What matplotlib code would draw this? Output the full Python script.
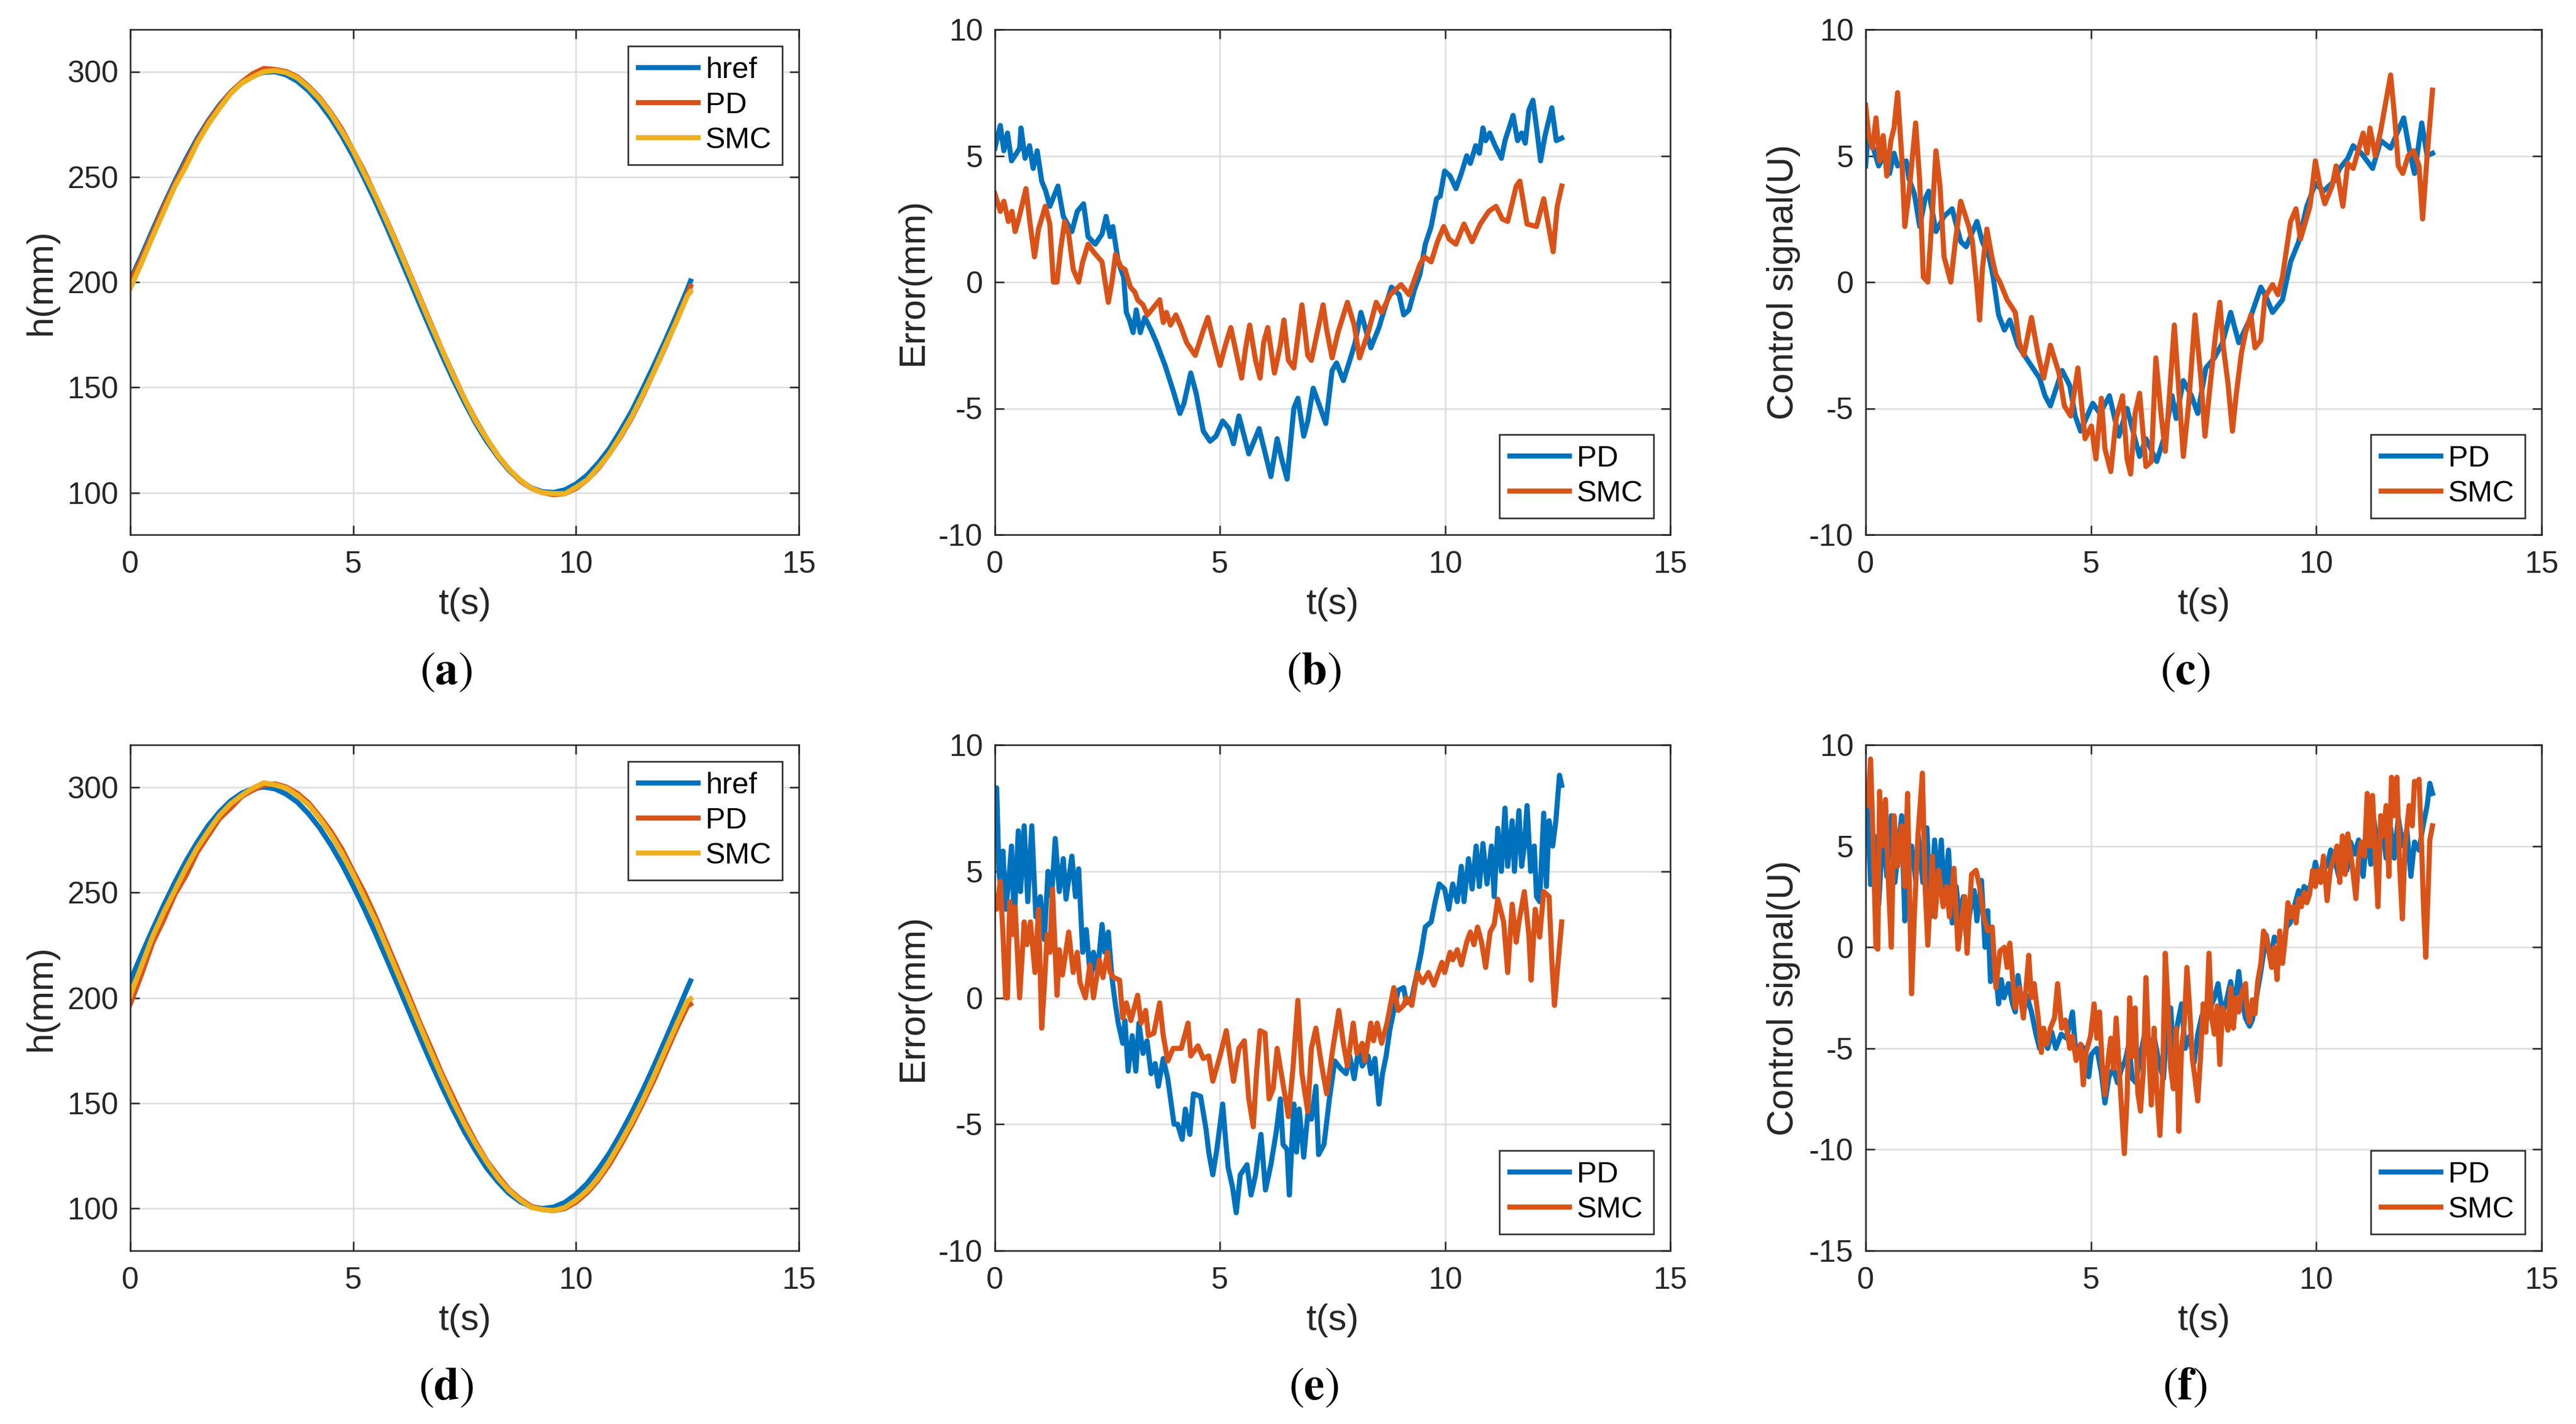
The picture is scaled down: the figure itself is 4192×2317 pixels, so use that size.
import numpy as np
import matplotlib
matplotlib.use('Agg')
import matplotlib.pyplot as plt

plt.rcParams['font.family'] = ['Liberation Sans', 'DejaVu Sans']
plt.rcParams['axes.unicode_minus'] = False
plt.rcParams['mathtext.fontset'] = 'stix'

BLUE = '#0072BD'
ORANGE = '#D95319'
YELLOW = '#EDB120'
DARK = '#262626'

# ---------------- (a) / (d) : level h(mm), read every 0.25 s ----------------
t_h = [0, 0.25, 0.5, 0.75, 1.0, 1.25, 1.5, 1.75, 2.0, 2.25, 2.5, 2.75, 3.0, 3.25, 3.5,
       3.75, 4.0, 4.25, 4.5, 4.75, 5.0, 5.25, 5.5, 5.75, 6.0, 6.25, 6.5, 6.75, 7.0,
       7.25, 7.5, 7.75, 8.0, 8.25, 8.5, 8.75, 9.0, 9.25, 9.5, 9.75, 10.0, 10.25, 10.5,
       10.75, 11.0, 11.25, 11.5, 11.75, 12.0, 12.25, 12.5, 12.57]

a_href = [201, 212.5, 224.7, 236.6, 247.9, 258.5, 268.2, 276.7, 284.1, 290.2, 294.9,
          298.1, 299.7, 299.9, 298.4, 295.4, 290.9, 285.0, 277.8, 269.4, 259.8, 249.3,
          238.2, 226.4, 214.1, 201.7, 189.2, 176.9, 164.9, 153.5, 142.8, 132.9, 124.3,
          116.9, 110.5, 105.7, 102.2, 100.4, 100.1, 101.3, 104.1, 108.3, 114.1, 120.9,
          129.5, 138.7, 149.4, 160.6, 172.1, 184.2, 196.7, 200.5]
a_pd = [200, 211, 223, 235.5, 246.5, 257, 267, 276, 283.5, 290, 295, 299, 301.5, 301,
        300, 297.5, 293, 287.5, 280.5, 272.5, 262.5, 252.5, 241, 229.5, 217.5, 205,
        192.5, 180, 167.5, 156, 144.5, 134.5, 125.5, 117.5, 111, 105.5, 102, 100, 99,
        99.5, 102, 106, 111.5, 118.5, 126.5, 135.5, 146, 157.5, 169, 181.5, 194, 198]
a_smc = [197, 209, 221.5, 233.5, 245.5, 255, 266, 275, 282.5, 289.5, 294.5, 297.5, 300,
         300.5, 299.5, 297, 292.5, 287, 280, 271.5, 262.5, 251.5, 241, 229, 217, 204.5,
         192, 179.5, 167.5, 155.5, 144.5, 134, 125.5, 117.5, 111, 106, 102, 100, 99.5,
         99.5, 102.5, 106, 112, 118.5, 127, 136, 146.5, 157.5, 169.5, 181, 193.5, 195.5]

d_href = [208, 220.4, 232.4, 243.9, 254.8, 264.8, 273.8, 281.7, 288.2, 293.4, 297.1,
          299.3, 300.0, 299.1, 296.6, 292.8, 287.3, 280.6, 272.5, 263.4, 253.1, 242.3,
          230.7, 218.5, 206.2, 193.7, 181.3, 169.1, 157.5, 146.6, 136.3, 127.3, 119.1,
          112.6, 107.1, 103.2, 100.8, 100.0, 100.7, 102.9, 106.8, 111.9, 118.7, 126.3,
          135.5, 145.5, 156.2, 167.8, 179.9, 192.2, 204.7, 208]
d_pd = [197, 211, 226, 237, 249, 258, 269, 277, 285, 290, 295.5, 298.5, 301, 301.5,
        300, 297, 292.5, 286, 279, 270.5, 260, 250, 238.5, 226, 213.5, 201, 188, 176,
        163.5, 152.5, 141.5, 131.5, 122.5, 115.5, 109, 104.5, 101, 99.5, 99, 100, 103,
        107.5, 113.5, 121, 130, 139.5, 150, 161, 173, 185, 196, 197]
d_smc = [201, 215, 229, 240.5, 251, 261.5, 271, 279, 286.5, 292, 296, 299.5, 302, 301,
         299.5, 296, 291.5, 285, 277.5, 268.5, 258.5, 247.5, 236.5, 224, 211.5, 199,
         186.5, 174, 162, 150.5, 140, 130.5, 122, 114.5, 108.5, 104, 100.5, 99.5, 99,
         100.5, 104, 108.5, 114.5, 122.5, 131.5, 141, 151.5, 163, 175, 187, 198.5, 199.5]

# ---------------- (b) error, case 1 ----------------
b_pd_t = [0, 0.12, 0.2, 0.28, 0.37, 0.48, 0.55, 0.58, 0.67, 0.77, 0.85, 0.94, 1.04, 1.13,
          1.22, 1.4, 1.52, 1.71, 1.83, 1.97, 2.07, 2.23, 2.38, 2.47, 2.56, 2.62, 2.74, 2.86,
          2.92, 2.99, 3.07, 3.14, 3.23, 3.33, 3.47, 3.59, 3.78, 3.96, 4.11, 4.2, 4.35, 4.47,
          4.63, 4.78, 4.91, 5.06, 5.2, 5.3, 5.42, 5.64, 5.87, 6.13, 6.27, 6.37, 6.49, 6.64,
          6.73, 6.86, 6.95, 7.07, 7.23, 7.35, 7.49, 7.59, 7.74, 7.9, 8.0, 8.13, 8.35, 8.53,
          8.65, 8.81, 8.98, 9.08, 9.2, 9.32, 9.44, 9.56, 9.69, 9.81, 9.89, 9.99, 10.11,
          10.24, 10.36, 10.48, 10.56, 10.68, 10.76, 10.84, 10.9, 10.99, 11.11, 11.25,
          11.33, 11.42, 11.51, 11.61, 11.7, 11.78, 11.86, 11.95, 12.04, 12.12, 12.22,
          12.37, 12.47, 12.59]
b_pd = [5.3, 6.2, 5.2, 5.9, 4.8, 5.1, 5.3, 6.1, 4.9, 5.4, 4.5, 5.2, 4.0, 3.6, 3.0, 3.8,
        2.6, 2.0, 2.8, 3.1, 1.8, 1.5, 1.9, 2.6, 1.8, 2.2, 0.8, 0.2, -1.2, -1.5, -2.0, -1.1,
        -2.0, -1.4, -1.9, -2.4, -3.3, -4.3, -5.2, -4.8, -3.6, -4.4, -5.9, -6.3, -6.1, -5.5,
        -5.8, -6.4, -5.3, -6.8, -5.8, -7.7, -6.2, -7.0, -7.8, -5.0, -4.6, -6.1, -5.5, -4.2,
        -5.0, -5.6, -3.5, -3.2, -3.9, -3.0, -2.4, -1.2, -2.6, -1.8, -1.1, -0.2, -0.5, -1.3,
        -1.1, -0.3, 0.3, 1.5, 2.2, 3.3, 3.4, 4.4, 4.2, 3.7, 4.3, 5.0, 4.7, 5.4, 5.1, 6.1,
        5.6, 5.9, 5.4, 4.9, 5.6, 6.1, 6.6, 5.6, 5.9, 5.5, 6.8, 7.2, 6.0, 4.8, 5.8, 6.9,
        5.6, 5.7]

b_smc_t = [0, 0.12, 0.2, 0.3, 0.38, 0.45, 0.53, 0.61, 0.69, 0.79, 0.88, 0.97, 1.12, 1.22,
           1.3, 1.38, 1.46, 1.55, 1.64, 1.74, 1.86, 1.95, 2.07, 2.19, 2.38, 2.52, 2.6, 2.68,
           2.8, 2.89, 3.01, 3.11, 3.17, 3.29, 3.39, 3.66, 3.74, 3.81, 3.9, 4.02, 4.14, 4.26,
           4.45, 4.63, 4.73, 4.81, 5.0, 5.12, 5.24, 5.48, 5.57, 5.66, 5.79, 5.89, 5.97,
           6.06, 6.21, 6.34, 6.42, 6.52, 6.64, 6.82, 6.95, 7.03, 7.29, 7.37, 7.49, 7.62,
           7.83, 7.98, 8.1, 8.29, 8.47, 8.59, 8.78, 9.02, 9.2, 9.44, 9.54, 9.69, 9.83, 9.97,
           10.09, 10.24, 10.42, 10.6, 10.78, 10.97, 11.13, 11.27, 11.39, 11.58, 11.66,
           11.82, 12.03, 12.19, 12.31, 12.4, 12.49, 12.59]
b_smc = [3.5, 2.8, 3.2, 2.4, 2.8, 2.0, 2.5, 3.1, 3.7, 2.2, 1.0, 2.1, 3.0, 2.3, 0.0, 0.0,
         1.3, 2.4, 1.9, 0.5, 0.0, 0.8, 1.5, 1.2, 0.8, -0.8, 0.0, 1.1, 0.6, 0.5, -0.2, -0.4,
         -0.7, -0.9, -1.3, -0.7, -1.6, -1.2, -1.7, -1.3, -1.8, -2.4, -2.9, -1.9, -1.4,
         -2.0, -3.3, -2.5, -1.8, -3.8, -2.6, -1.7, -3.1, -3.8, -2.4, -1.8, -3.6, -2.5,
         -1.5, -3.1, -3.4, -0.9, -2.9, -3.1, -0.9, -1.9, -3.0, -2.0, -0.8, -1.7, -3.0,
         -2.0, -0.8, -1.2, -0.5, -0.1, -0.5, 0.7, 1.0, 0.8, 1.6, 2.2, 1.7, 1.5, 2.3, 1.6,
         2.3, 2.8, 3.0, 2.5, 2.4, 3.8, 4.0, 2.3, 2.2, 3.3, 2.1, 1.2, 3.0, 3.8]

# ---------------- (c) control signal, case 1 ----------------
c_pd_t = [0, 0.05, 0.17, 0.29, 0.41, 0.53, 0.63, 0.71, 0.9, 0.96, 1.08, 1.2, 1.32, 1.4,
          1.56, 1.74, 1.92, 2.11, 2.23, 2.47, 2.59, 2.74, 2.83, 2.95, 3.08, 3.2, 3.38,
          3.56, 3.86, 3.98, 4.1, 4.36, 4.53, 4.65, 4.77, 5.04, 5.2, 5.41, 5.62, 5.8, 6.08,
          6.22, 6.46, 6.65, 6.8, 6.89, 7.05, 7.23, 7.37, 7.55, 7.74, 7.92, 8.1, 8.28,
          8.52, 8.77, 8.89, 9.03, 9.25, 9.43, 9.61, 9.79, 9.98, 10.16, 10.4, 10.52, 10.7,
          10.82, 11.0, 11.25, 11.43, 11.65, 11.94, 12.09, 12.18, 12.34, 12.46, 12.58]
c_pd = [4.6, 5.7, 5.3, 4.6, 5.0, 4.3, 5.1, 4.6, 4.8, 4.1, 3.5, 2.2, 3.3, 3.6, 2.0, 2.6,
        2.9, 1.6, 1.4, 2.4, 1.6, 1.0, 0.2, -1.3, -1.9, -1.5, -2.5, -3.0, -3.8, -4.5, -4.9,
        -3.5, -4.1, -5.3, -5.9, -4.8, -5.2, -4.5, -6.1, -5.0, -6.9, -6.2, -7.1, -6.0,
        -4.5, -5.4, -3.9, -4.5, -5.2, -3.4, -3.0, -2.4, -1.2, -2.4, -1.5, -0.2, -0.6,
        -1.2, -0.7, 0.8, 1.6, 3.0, 3.9, 3.6, 4.0, 4.5, 4.9, 5.4, 5.1, 4.5, 5.6, 5.3, 6.5,
        5.0, 4.3, 6.3, 5.0, 5.1]

c_smc_t = [0, 0.07, 0.15, 0.23, 0.31, 0.39, 0.47, 0.56, 0.63, 0.71, 0.8, 0.87, 0.96, 1.11,
           1.2, 1.28, 1.38, 1.48, 1.56, 1.65, 1.74, 1.89, 1.99, 2.11, 2.29, 2.37, 2.47,
           2.53, 2.59, 2.69, 2.8, 2.89, 2.98, 3.14, 3.32, 3.41, 3.51, 3.68, 3.83, 3.95,
           4.1, 4.29, 4.41, 4.55, 4.71, 4.87, 5.01, 5.11, 5.23, 5.31, 5.44, 5.56, 5.7,
           5.8, 5.88, 5.98, 6.08, 6.22, 6.34, 6.44, 6.56, 6.65, 6.73, 6.85, 7.05, 7.17,
           7.31, 7.44, 7.53, 7.65, 7.77, 7.86, 7.94, 8.04, 8.14, 8.22, 8.34, 8.43, 8.55,
           8.64, 8.77, 8.86, 9.03, 9.15, 9.25, 9.43, 9.55, 9.65, 9.86, 9.98, 10.07, 10.19,
           10.35, 10.44, 10.59, 10.7, 10.82, 11.04, 11.13, 11.19, 11.31, 11.43, 11.53,
           11.65, 11.74, 11.82, 11.92, 12.04, 12.16, 12.28, 12.36, 12.46, 12.58]
c_smc = [7.0, 5.8, 5.3, 6.5, 4.8, 5.8, 4.2, 5.6, 6.1, 7.5, 5.0, 2.2, 3.5, 6.3, 4.0, 0.2,
         0.0, 2.7, 5.2, 3.8, 1.0, 0.0, 1.6, 3.2, 2.2, 1.6, -0.2, -1.5, 0.5, 2.1, 1.0, 0.3,
         0.0, -0.7, -1.2, -2.4, -2.9, -1.4, -2.9, -3.8, -2.5, -3.6, -4.9, -5.3, -3.4,
         -6.2, -5.7, -7.0, -4.6, -6.6, -7.5, -5.4, -4.5, -7.0, -7.6, -5.2, -4.4, -7.3,
         -7.1, -3.0, -5.3, -6.7, -4.8, -1.7, -6.9, -4.8, -1.3, -3.8, -6.1, -4.0, -2.0,
         -0.8, -2.6, -4.0, -5.9, -4.5, -2.8, -2.0, -1.3, -2.6, -2.3, -0.6, -0.1, -0.5,
         0.2, 2.4, 2.9, 1.7, 3.0, 4.8, 3.9, 3.1, 3.8, 4.6, 3.0, 4.7, 4.5, 5.9, 5.1, 6.1,
         5.0, 6.0, 7.0, 8.2, 6.5, 4.6, 4.3, 5.0, 5.2, 4.6, 2.5, 5.0, 7.6]

# ---------------- (e) error, case 2 ----------------
e_pd_t = [0, 0.04, 0.09, 0.12, 0.18, 0.24, 0.3, 0.37, 0.43, 0.52, 0.57, 0.65, 0.73, 0.82,
          0.91, 1.01, 1.1, 1.18, 1.26, 1.34, 1.43, 1.52, 1.58, 1.71, 1.79, 1.86, 1.95,
          2.03, 2.13, 2.19, 2.28, 2.38, 2.44, 2.52, 2.6, 2.68, 2.74, 2.84, 2.89, 2.96,
          3.05, 3.13, 3.2, 3.29, 3.38, 3.47, 3.56, 3.63, 3.74, 3.84, 3.98, 4.06, 4.16,
          4.23, 4.33, 4.41, 4.57, 4.69, 4.75, 4.84, 4.93, 5.06, 5.12, 5.18, 5.28, 5.36,
          5.45, 5.6, 5.69, 5.79, 5.91, 6.01, 6.13, 6.25, 6.34, 6.4, 6.49, 6.54, 6.64,
          6.7, 6.76, 6.86, 6.95, 7.03, 7.13, 7.19, 7.31, 7.43, 7.55, 7.68, 7.8, 7.88,
          7.98, 8.08, 8.16, 8.29, 8.35, 8.44, 8.53, 8.61, 8.69, 8.77, 8.86, 8.96, 9.08,
          9.14, 9.26, 9.38, 9.47, 9.56, 9.69, 9.78, 9.87, 9.99, 10.08, 10.17, 10.27,
          10.36, 10.42, 10.52, 10.6, 10.69, 10.76, 10.84, 10.93, 11.03, 11.09, 11.17,
          11.25, 11.33, 11.39, 11.49, 11.54, 11.64, 11.7, 11.76, 11.82, 11.9, 11.98,
          12.03, 12.1, 12.19, 12.25, 12.31, 12.39, 12.46, 12.54, 12.59]
e_pd = [8.2, 8.3, 5.0, 4.5, 5.8, 3.5, 4.5, 6.0, 3.0, 6.6, 4.2, 6.8, 3.8, 6.8, 3.2, 4.0,
        2.3, 5.0, 4.0, 6.3, 4.2, 5.5, 3.9, 5.6, 4.0, 5.1, 1.8, 2.7, 0.6, 1.8, 1.0, 2.9,
        1.8, 2.6, 0.8, -0.3, -1.0, -1.8, -0.9, -2.9, -1.5, -2.9, -1.0, -2.2, -1.7, -3.0,
        -2.6, -3.5, -2.4, -3.2, -5.0, -5.0, -5.6, -4.4, -5.4, -3.8, -3.9, -5.2, -6.1,
        -7.0, -6.0, -4.2, -5.5, -6.7, -7.5, -8.5, -7.0, -6.6, -7.8, -7.0, -5.4, -7.6,
        -6.6, -5.3, -4.0, -5.8, -6.0, -7.8, -4.2, -6.1, -4.4, -6.3, -4.6, -4.8, -3.5,
        -6.2, -5.8, -4.0, -2.5, -2.8, -3.0, -2.3, -3.2, -2.0, -2.7, -2.3, -3.0, -2.4,
        -4.2, -3.0, -2.3, -1.3, -0.5, 0.3, 0.4, -0.2, 0.0, 1.0, 1.8, 2.8, 3.0, 3.8, 4.5,
        4.3, 3.5, 4.5, 3.8, 5.2, 3.8, 5.5, 4.3, 6.0, 4.4, 6.1, 4.5, 6.0, 4.0, 6.7, 5.0,
        7.5, 5.2, 7.0, 5.0, 7.4, 5.2, 6.0, 7.6, 5.0, 6.0, 4.0, 3.8, 7.3, 4.4, 7.0, 6.0,
        7.0, 8.8, 8.4]

e_smc_t = [0, 0.04, 0.12, 0.18, 0.24, 0.28, 0.33, 0.4, 0.45, 0.55, 0.65, 0.71, 0.79, 0.89,
           0.97, 1.04, 1.1, 1.16, 1.22, 1.28, 1.38, 1.43, 1.5, 1.64, 1.74, 1.83, 1.89,
           2.01, 2.11, 2.19, 2.32, 2.4, 2.5, 2.56, 2.64, 2.77, 2.84, 2.92, 3.02, 3.17,
           3.25, 3.35, 3.41, 3.53, 3.66, 3.74, 3.84, 3.96, 4.14, 4.29, 4.35, 4.51, 4.63,
           4.75, 4.84, 5.0, 5.14, 5.3, 5.42, 5.54, 5.64, 5.74, 5.81, 5.89, 6.0, 6.09, 6.18,
           6.27, 6.52, 6.62, 6.73, 6.82, 6.95, 7.03, 7.13, 7.25, 7.37, 7.49, 7.64, 7.74,
           7.83, 7.96, 8.04, 8.16, 8.22, 8.35, 8.41, 8.49, 8.59, 8.71, 8.86, 8.96, 9.08,
           9.14, 9.26, 9.38, 9.5, 9.63, 9.75, 9.93, 9.99, 10.11, 10.17, 10.27, 10.36,
           10.48, 10.56, 10.64, 10.72, 10.81, 10.9, 11.0, 11.09, 11.17, 11.3, 11.39,
           11.49, 11.58, 11.64, 11.76, 11.86, 11.91, 12.0, 12.1, 12.19, 12.31, 12.37,
           12.43, 12.49, 12.59]
e_smc = [4.0, 3.5, 4.6, 2.5, 0.0, 0.0, 3.8, 2.5, 3.6, 0.0, 3.0, 2.1, 3.0, 1.0, 3.5, -1.2,
         0.5, 2.5, 1.8, 4.3, 0.1, 1.9, 0.9, 2.6, 1.0, 1.8, 0.6, 0.0, 1.3, 0.0, 1.5, 0.8,
         1.8, 1.0, 0.8, 0.7, -0.8, -0.2, -0.9, 0.1, -1.0, -0.5, -1.5, -1.4, -0.2, -1.5,
         -2.5, -2.0, -2.0, -1.0, -2.3, -1.9, -2.4, -2.3, -3.3, -2.3, -1.3, -3.3, -2.0,
         -1.7, -4.0, -5.1, -3.0, -1.3, -1.4, -4.0, -3.6, -2.0, -4.7, -2.8, -0.1, -3.0,
         -4.5, -2.0, -1.2, -2.6, -3.8, -2.2, -0.5, -1.8, -2.7, -1.0, -2.2, -1.8, -2.5,
         -1.0, -1.7, -1.0, -1.8, -1.0, 0.4, -0.5, -0.3, 0.0, -0.3, 1.0, 0.6, 1.0, 0.5,
         1.4, 1.0, 1.8, 1.5, 1.9, 1.3, 2.2, 2.6, 2.1, 2.8, 2.2, 1.2, 2.6, 2.9, 3.9, 3.0,
         1.0, 3.7, 2.2, 3.0, 4.2, 2.5, 0.7, 3.5, 2.4, 4.2, 4.0, 1.5, -0.3, 1.0, 3.0]

# ---------------- (f) control signal, case 2 ----------------
f_pd_t = [0, 0.05, 0.11, 0.19, 0.29, 0.39, 0.47, 0.57, 0.65, 0.8, 0.87, 0.93, 1.02, 1.11,
          1.17, 1.27, 1.36, 1.44, 1.53, 1.6, 1.68, 1.74, 1.84, 1.92, 2.01, 2.08, 2.17,
          2.23, 2.32, 2.41, 2.47, 2.57, 2.65, 2.71, 2.77, 2.83, 2.89, 2.95, 3.01, 3.07,
          3.17, 3.26, 3.32, 3.38, 3.5, 3.58, 3.68, 3.78, 3.86, 3.95, 4.04, 4.13, 4.22,
          4.34, 4.46, 4.59, 4.67, 4.77, 4.87, 4.95, 5.01, 5.13, 5.23, 5.31, 5.4, 5.5,
          5.59, 5.68, 5.76, 5.84, 5.92, 6.0, 6.1, 6.2, 6.28, 6.4, 6.52, 6.61, 6.68, 6.77,
          6.83, 6.92, 7.01, 7.09, 7.19, 7.29, 7.37, 7.46, 7.55, 7.65, 7.74, 7.82, 7.92,
          8.01, 8.1, 8.18, 8.28, 8.34, 8.43, 8.52, 8.58, 8.67, 8.77, 8.83, 8.89, 8.98,
          9.07, 9.15, 9.25, 9.34, 9.42, 9.51, 9.61, 9.67, 9.73, 9.83, 9.91, 9.98, 10.07,
          10.16, 10.24, 10.32, 10.41, 10.5, 10.59, 10.68, 10.76, 10.85, 10.94, 11.04,
          11.12, 11.21, 11.28, 11.37, 11.45, 11.55, 11.65, 11.73, 11.82, 11.92, 12.01,
          12.1, 12.18, 12.28, 12.37, 12.46, 12.52, 12.58]
f_pd = [7.5, 6.5, 3.1, 5.5, 2.1, 6.0, 3.5, 6.5, 3.2, 6.5, 1.3, 3.5, 5.0, 3.3, 5.5, 3.2,
        5.9, 1.5, 5.3, 3.0, 5.3, 2.5, 4.8, 1.2, 3.0, 1.5, 2.5, 0.6, 1.8, 2.8, 1.3, 3.3,
        0.0, 1.8, -1.7, -0.5, -1.3, -2.8, -1.6, -2.5, -1.8, -2.8, -3.2, -1.4, -3.3, -2.4,
        -3.2, -4.3, -5.0, -4.2, -5.0, -4.2, -5.0, -4.3, -4.5, -3.2, -5.4, -4.8, -5.1,
        -6.4, -5.3, -5.0, -6.2, -7.7, -6.4, -6.0, -6.7, -6.0, -5.6, -4.8, -6.5, -6.7,
        -5.3, -4.2, -5.2, -4.4, -5.8, -6.5, -4.2, -3.0, -5.3, -3.8, -2.8, -5.0, -4.4,
        -5.7, -4.3, -3.4, -3.7, -3.0, -2.5, -1.8, -3.3, -2.6, -1.7, -3.0, -1.2, -2.5,
        -3.5, -3.9, -3.6, -2.5, -1.2, -0.3, 0.6, -0.6, 0.5, 0.3, -0.2, 1.0, 1.2, 2.0,
        2.8, 2.2, 3.0, 2.8, 3.3, 4.2, 3.3, 4.3, 4.0, 4.8, 4.3, 3.5, 5.0, 3.8, 5.2, 4.6,
        5.3, 3.5, 5.6, 4.1, 6.3, 4.8, 6.2, 4.4, 5.9, 4.4, 6.4, 5.0, 5.8, 3.5, 5.2, 4.8,
        6.0, 7.0, 8.1, 7.6]

f_smc_t = [0, 0.05, 0.11, 0.17, 0.23, 0.27, 0.31, 0.36, 0.44, 0.51, 0.57, 0.63, 0.71,
           0.8, 0.87, 0.93, 1.02, 1.08, 1.16, 1.26, 1.32, 1.38, 1.48, 1.54, 1.62, 1.72,
           1.8, 1.86, 1.96, 2.05, 2.11, 2.2, 2.25, 2.35, 2.45, 2.53, 2.62, 2.71, 2.81,
           2.89, 2.98, 3.08, 3.14, 3.2, 3.26, 3.32, 3.41, 3.5, 3.56, 3.62, 3.68, 3.74,
           3.83, 3.9, 3.95, 4.02, 4.1, 4.19, 4.26, 4.35, 4.43, 4.53, 4.59, 4.67, 4.77,
           4.83, 4.89, 4.99, 5.07, 5.13, 5.19, 5.25, 5.31, 5.38, 5.44, 5.5, 5.56, 5.62,
           5.68, 5.74, 5.8, 5.86, 5.92, 5.98, 6.04, 6.1, 6.16, 6.22, 6.28, 6.34, 6.4,
           6.46, 6.53, 6.59, 6.65, 6.71, 6.77, 6.83, 6.89, 6.95, 7.01, 7.07, 7.13, 7.19,
           7.25, 7.31, 7.37, 7.43, 7.49, 7.55, 7.62, 7.68, 7.74, 7.8, 7.86, 7.92, 7.98,
           8.04, 8.1, 8.16, 8.22, 8.28, 8.34, 8.43, 8.46, 8.52, 8.58, 8.64, 8.7, 8.77,
           8.83, 8.89, 8.95, 9.01, 9.07, 9.13, 9.19, 9.25, 9.31, 9.37, 9.43, 9.49, 9.55,
           9.61, 9.67, 9.73, 9.79, 9.85, 9.92, 9.98, 10.04, 10.1, 10.16, 10.24, 10.31,
           10.4, 10.46, 10.52, 10.58, 10.64, 10.7, 10.8, 10.88, 10.94, 11.0, 11.07, 11.13,
           11.19, 11.25, 11.31, 11.37, 11.43, 11.49, 11.55, 11.61, 11.67, 11.73, 11.79,
           11.85, 11.91, 11.97, 12.06, 12.13, 12.18, 12.23, 12.28, 12.33, 12.38, 12.43,
           12.47, 12.52, 12.58]
f_smc = [8.0, 7.0, 9.3, 5.0, 0.0, -0.1, 7.7, 5.0, 7.3, 3.0, 0.0, 6.5, 4.0, 6.0, 3.0, 7.6,
         -2.3, 1.5, 5.5, 8.6, 3.0, 0.1, 4.5, 1.5, 3.8, 2.0, 3.0, 1.5, 3.9, -0.1, 1.0, 2.5,
         -0.3, 3.6, 3.8, 3.0, 1.5, 0.8, 1.0, -2.0, -0.2, 0.0, -1.0, 0.2, -1.5, -3.0,
         -2.0, -3.5, -2.0, -0.4, -2.5, -1.8, -3.5, -5.2, -4.0, -4.8, -4.0, -3.5, -1.8,
         -4.0, -3.6, -5.0, -4.4, -5.6, -4.8, -6.8, -5.2, -4.4, -2.8, -4.5, -3.2, -5.8,
         -7.3, -5.6, -4.5, -6.0, -3.5, -5.8, -8.0, -10.2, -7.5, -2.5, -5.4, -3.0, -7.2,
         -8.1, -6.2, -1.5, -5.0, -7.8, -4.0, -7.0, -9.3, -6.5, -0.3, -2.8, -6.0, -7.0,
         -4.0, -9.1, -5.0, -3.8, -1.0, -3.0, -5.5, -6.5, -7.6, -5.5, -2.8, -4.2, -0.3,
         -3.5, -4.3, -2.9, -5.8, -3.0, -3.5, -4.1, -2.0, -4.0, -2.5, -3.2, -2.3, -1.8,
         -3.0, -3.7, -2.6, -3.3, -1.7, -0.8, 0.8, 0.5, -0.2, -1.0, 0.0, -1.6, 0.8, -0.8,
         0.4, 2.2, 1.5, 2.0, 1.2, 2.4, 2.0, 2.7, 2.2, 2.6, 3.8, 3.0, 3.8, 3.2, 4.5, 2.3,
         3.8, 4.5, 5.0, 3.2, 5.5, 3.6, 5.6, 4.0, 2.4, 4.4, 5.2, 4.5, 7.6, 5.0, 7.5, 4.5,
         2.0, 6.5, 5.5, 7.0, 3.5, 8.4, 6.5, 8.4, 4.0, 1.4, 5.0, 7.0, 6.0, 8.2, 8.0, 8.3,
         5.5, 2.0, -0.5, 2.0, 5.3, 6.0]

# ---------------- layout (pixel boxes of the six axes) ----------------
W, H = 4192, 2317
col_l = [212, 1619, 3036]
col_r = [1300, 2718, 4136]
row_t = [48, 1212]
row_b = [870, 2035]
lab_x = [726, 2138, 3556]
lab_y = [1093, 2257]
LW = 6.0

fig = plt.figure(figsize=(W / 100, H / 100), dpi=100)


def panel(col, row, ylim, yticks, ylabel):
    ax = fig.add_axes([col_l[col] / W, 1 - row_b[row] / H,
                       (col_r[col] - col_l[col]) / W, (row_b[row] - row_t[row]) / H])
    ax.set_xlim(0, 15)
    ax.set_xticks([0, 5, 10, 15])
    ax.set_ylim(*ylim)
    ax.set_yticks(yticks)
    ax.grid(True, color='#dddddd', lw=1.8)
    ax.set_axisbelow(True)
    ax.tick_params(direction='in', length=11, width=1.8, top=True, right=True,
                   labelsize=36, colors=DARK)
    ax.tick_params(axis='x', pad=19)
    ax.tick_params(axis='y', pad=14)
    for s in ax.spines.values():
        s.set_linewidth(1.8)
        s.set_color(DARK)
    ax.set_xlabel('t(s)', fontsize=43, labelpad=10, color=DARK)
    ax.set_ylabel(ylabel, fontsize=43, labelpad=10, color=DARK)
    return ax


def finish(ax, loc):
    leg = ax.legend(loc=loc, fontsize=35, fancybox=False, framealpha=1,
                    edgecolor=DARK, handlelength=2.0, handletextpad=0.25,
                    labelspacing=0.25, borderaxespad=0.55, borderpad=0.35)
    leg.get_frame().set_linewidth(1.8)


# (a)
ax = panel(0, 0, (80, 320), [100, 150, 200, 250, 300], 'h(mm)')
ax.plot(t_h, a_href, color=BLUE, lw=LW, label='href')
ax.plot(t_h, a_pd, color=ORANGE, lw=LW, label='PD')
ax.plot(t_h, a_smc, color=YELLOW, lw=LW, label='SMC')
finish(ax, 'upper right')

# (b)
ax = panel(1, 0, (-10, 10), [-10, -5, 0, 5, 10], 'Error(mm)')
ax.plot(b_pd_t, b_pd, color=BLUE, lw=LW, label='PD')
ax.plot(b_smc_t, b_smc, color=ORANGE, lw=LW, label='SMC')
finish(ax, 'lower right')

# (c)
ax = panel(2, 0, (-10, 10), [-10, -5, 0, 5, 10], 'Control signal(U)')
ax.plot(c_pd_t, c_pd, color=BLUE, lw=LW, label='PD')
ax.plot(c_smc_t, c_smc, color=ORANGE, lw=LW, label='SMC')
finish(ax, 'lower right')

# (d)
ax = panel(0, 1, (80, 320), [100, 150, 200, 250, 300], 'h(mm)')
ax.plot(t_h, d_href, color=BLUE, lw=LW, label='href')
ax.plot(t_h, d_pd, color=ORANGE, lw=LW, label='PD')
ax.plot(t_h, d_smc, color=YELLOW, lw=LW, label='SMC')
finish(ax, 'upper right')

# (e)
ax = panel(1, 1, (-10, 10), [-10, -5, 0, 5, 10], 'Error(mm)')
ax.plot(e_pd_t, e_pd, color=BLUE, lw=LW, label='PD')
ax.plot(e_smc_t, e_smc, color=ORANGE, lw=LW, label='SMC')
finish(ax, 'lower right')

# (f)
ax = panel(2, 1, (-15, 10), [-15, -10, -5, 0, 5, 10], 'Control signal(U)')
ax.plot(f_pd_t, f_pd, color=BLUE, lw=LW, label='PD')
ax.plot(f_smc_t, f_smc, color=ORANGE, lw=LW, label='SMC')
finish(ax, 'lower right')

for i, name in enumerate('abcdef'):
    fig.text(lab_x[i % 3] / W, 1 - lab_y[i // 3] / H, r'$(\mathbf{' + name + '})$',
             fontsize=54, ha='center', va='center', color='black')

fig.savefig('out.png', dpi=100)
